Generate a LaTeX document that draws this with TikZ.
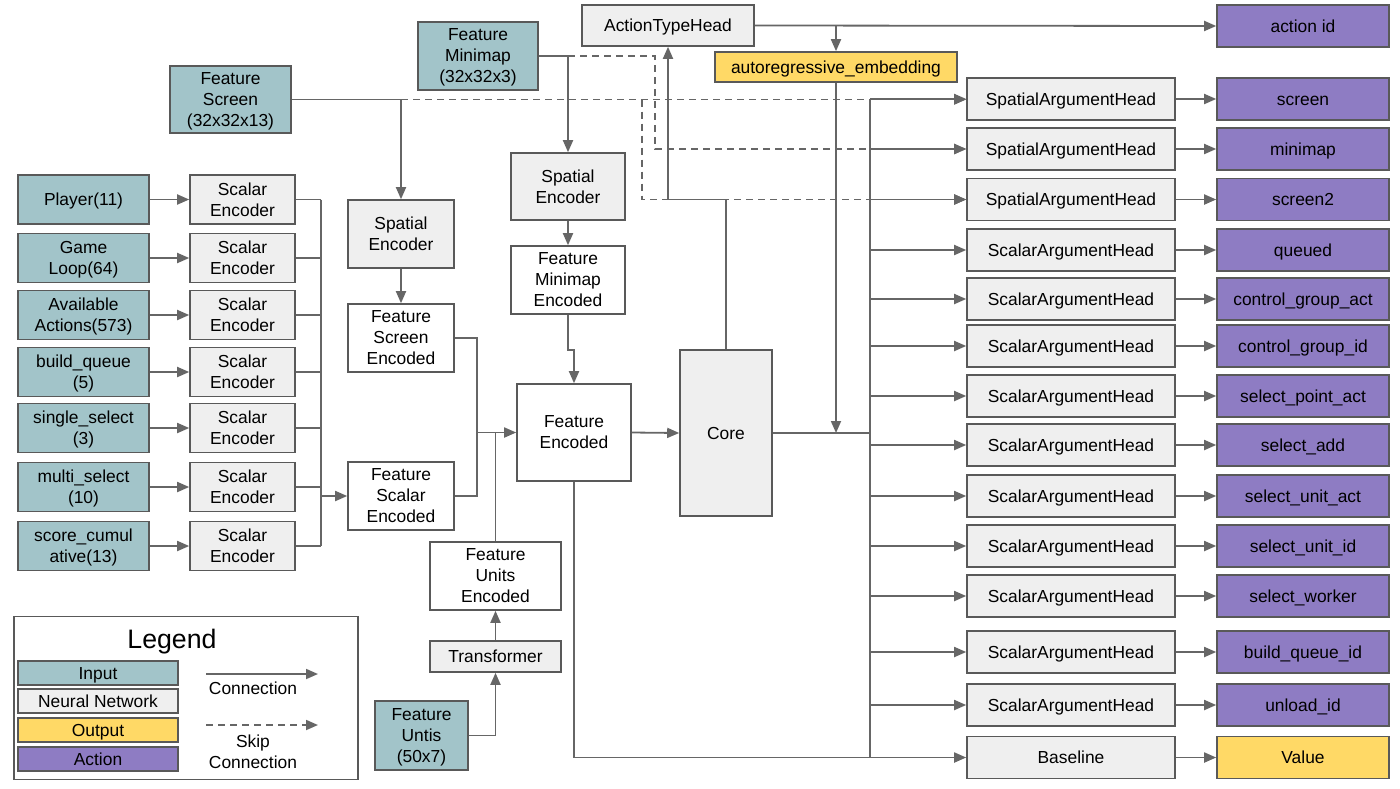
\documentclass[tikz,border=0pt]{standalone}
\usepackage{fontspec}
\setmainfont{Liberation Sans}
\usetikzlibrary{arrows.meta,positioning,calc}
\definecolor{InC}{HTML}{A2C4C9}
\definecolor{NetC}{HTML}{EFEFEF}
\definecolor{OutC}{HTML}{FFD966}
\definecolor{ActC}{HTML}{8E7CC3}
\definecolor{EdgeC}{HTML}{595959}
\definecolor{LineC}{HTML}{666666}
\tikzset{
  blk/.style={draw=EdgeC,line width=1.6pt,inner sep=0pt,align=center,text depth=0pt},
  oneline/.style={text height=12.5pt,text depth=0pt},
  inp/.style={blk,fill=InC},
  net/.style={blk,fill=NetC},
  outp/.style={blk,fill=OutC},
  enc/.style={blk,fill=white},
  act/.style={blk,oneline,fill=ActC,minimum width=172pt,minimum height=42pt},
  head/.style={net,oneline,minimum width=208pt,minimum height=42pt},
  wire/.style={LineC,line width=1.8pt},
  conn/.style={wire,-{Triangle[length=12pt,width=10pt]}},
  skip/.style={conn,dash pattern=on 7pt off 5pt},
}

\begin{document}
\begin{tikzpicture}[x=1pt,y=-1pt,font=\fontsize{17.4}{21}\selectfont]
  \useasboundingbox (0,0) rectangle (1400,788);

  % scalar inputs
  \foreach \txt/\yy [count=\i] in {{Player(11)}/199.5, {Game\\Loop(64)}/258,
      {Available\\Actions(573)}/315, {build\_queue\\(5)}/372,
      {single\_select\\(3)}/428, {multi\_select\\(10)}/487,
      {score\_cumul\\ative(13)}/546}{
    \node[inp,minimum width=131pt,minimum height=49pt] (in\i) at (83.5,\yy) {\txt};
    \node[net,minimum width=105pt,minimum height=49pt] (se\i) at (242.5,\yy) {Scalar\\Encoder};
    \draw[conn] (in\i) -- (se\i);
    \draw[wire] (se\i.east) -- (se\i.east -| 321,0);
  }
  \coordinate (colT) at (321,199.5);
  \coordinate (colB) at (321,546);
  \draw[wire] (colT) -- (colB);

  % spatial inputs and encoders
  \node[inp,minimum width=121pt,minimum height=67pt] (fscr) at (230.5,99.5) {Feature\\Screen\\(32x32x13)};
  \node[inp,minimum width=120pt,minimum height=68pt] (fmini) at (478,56) {Feature\\Minimap\\(32x32x3)};
  \node[net,minimum width=106pt,minimum height=68pt] (senc1) at (401,234) {Spatial\\Encoder};
  \node[net,minimum width=114pt,minimum height=67pt] (senc2) at (568,186.5) {Spatial\\Encoder};
  \node[enc,minimum width=106pt,minimum height=68pt] (fsce) at (401,338) {Feature\\Screen\\Encoded};
  \node[enc,minimum width=114pt,minimum height=68pt] (fme) at (568,280) {Feature\\Minimap\\Encoded};
  \node[enc,minimum width=106pt,minimum height=68pt] (fsca) at (401,496) {Feature\\Scalar\\Encoded};
  \node[enc,minimum width=114pt,minimum height=97pt] (fenc) at (574,432.5) {Feature\\Encoded};
  \node[enc,minimum width=131pt,minimum height=68pt] (fue) at (495.5,576) {Feature\\Units\\Encoded};
  \node[net,oneline,minimum width=131pt,minimum height=31pt] (trans) at (495.5,656.5) {Transformer};
  \node[inp,minimum width=93pt,minimum height=69pt] (funits) at (421.5,735.5) {Feature\\Untis\\(50x7)};
  \node[net,oneline,minimum width=92pt,minimum height=166pt] (core) at (726,433) {Core};
  \node[net,oneline,minimum width=172pt,minimum height=41pt] (ath) at (668,25.5) {ActionTypeHead};
  \node[outp,oneline,minimum width=242pt,minimum height=30pt] (are) at (836,67) {autoregressive\_embedding};
  \node[act] (aid) at (1303,26) {action id};

  \draw[conn] (fscr.east) -| (senc1.north);
  \draw[conn] (fmini.east) -| (senc2.north);
  \draw[conn] (senc1) -- (fsce);
  \draw[conn] (senc2) -- (fme);
  \draw[conn] (colT |- fsca.west) -- (fsca.west);
  \draw[conn] (fme.south) -- ++(0,35) -| (fenc.north);
  \coordinate (join) at (477,432.5);
  \draw[wire] (fsce.east) -| (join);
  \draw[wire] (fsca.east) -| (join);
  \draw[wire] (fue.north) -- (fue.north |- join);
  \draw[conn] (join) -- (fenc.west);
  \draw[conn] (funits.east) -| (trans.south);
  \draw[conn] (trans) -- (fue);
  \draw[conn] (fenc.east) -- (core.west);

  % heads
  \coordinate (bus) at (870,433);
  \foreach \hd/\ac/\yy [count=\i] in {Spatial/screen/99, Spatial/minimap/149,
      Spatial/screen2/199.5, Scalar/queued/250, Scalar/control\_group\_act/299,
      Scalar/control\_group\_id/346, Scalar/select\_point\_act/396,
      Scalar/select\_add/445, Scalar/select\_unit\_act/496,
      Scalar/select\_unit\_id/546, Scalar/select\_worker/596,
      Scalar/build\_queue\_id/652, Scalar/unload\_id/705}{
    \node[head] (h\i) at (1071,\yy) {\hd ArgumentHead};
    \node[act] (a\i) at (1303,\yy) {\ac};
    \draw[conn] (bus |- h\i.west) -- (h\i.west);
    \draw[conn] (h\i) -- (a\i);
  }
  \node[head] (base) at (1071,757.5) {Baseline};
  \node[act,fill=OutC] (val) at (1303,757.5) {Value};
  \draw[conn] (base) -- (val);
  \draw[conn] (fenc.south) |- (base.west);
  \draw[wire] (bus |- h1.west) -- (bus |- base.west);
  \draw[wire] (core.east) -- (bus);

  \draw[conn] (core.north) -- (core.north |- h3.west) -| (ath.south);
  \draw[conn] (ath.east) -- (aid.west);
  \draw[conn] (ath.east -| are.north) -- (are.north);
  \draw[conn] (are.south) -- (are.south |- bus);

  % skip connections
  \draw[skip] (senc1.north |- fscr.east) -- (fscr.east -| h1.west);
  \coordinate (sskip) at (642,99.5);
  \draw[skip] (sskip) |- (h3.west);
  \coordinate (mskip) at (655,56);
  \draw[skip] (senc2.north |- fmini.east) -- (mskip) |- (h2.west);

  % legend
  \node[draw=EdgeC,line width=1.6pt,minimum width=344pt,minimum height=163pt] (legend) at (186,698) {};
  \node[font=\fontsize{26.7}{30}\selectfont,text depth=0pt] (legtitle) at (172,639) {Legend};
  \node[inp,oneline,minimum width=160pt,minimum height=24pt] (kin) at (98,673) {Input};
  \node[net,oneline,minimum width=160pt,minimum height=24pt] (knet) at (98,701) {Neural Network};
  \node[outp,oneline,minimum width=160pt,minimum height=24pt] (kout) at (98,730) {Output};
  \node[blk,oneline,fill=ActC,minimum width=160pt,minimum height=24pt] (kact) at (98,759) {Action};
  \coordinate (kc1) at (206,674);
  \coordinate (kc2) at (318,674);
  \draw[conn] (kc1) -- (kc2);
  \node[oneline] (kconn) at (253,688) {Connection};
  \coordinate (ks1) at (206,725);
  \coordinate (ks2) at (318,725);
  \draw[skip] (ks1) -- (ks2);
  \node[align=center,text depth=0pt] (kskip) at (253,752) {Skip\\Connection};
\end{tikzpicture}
\end{document}
